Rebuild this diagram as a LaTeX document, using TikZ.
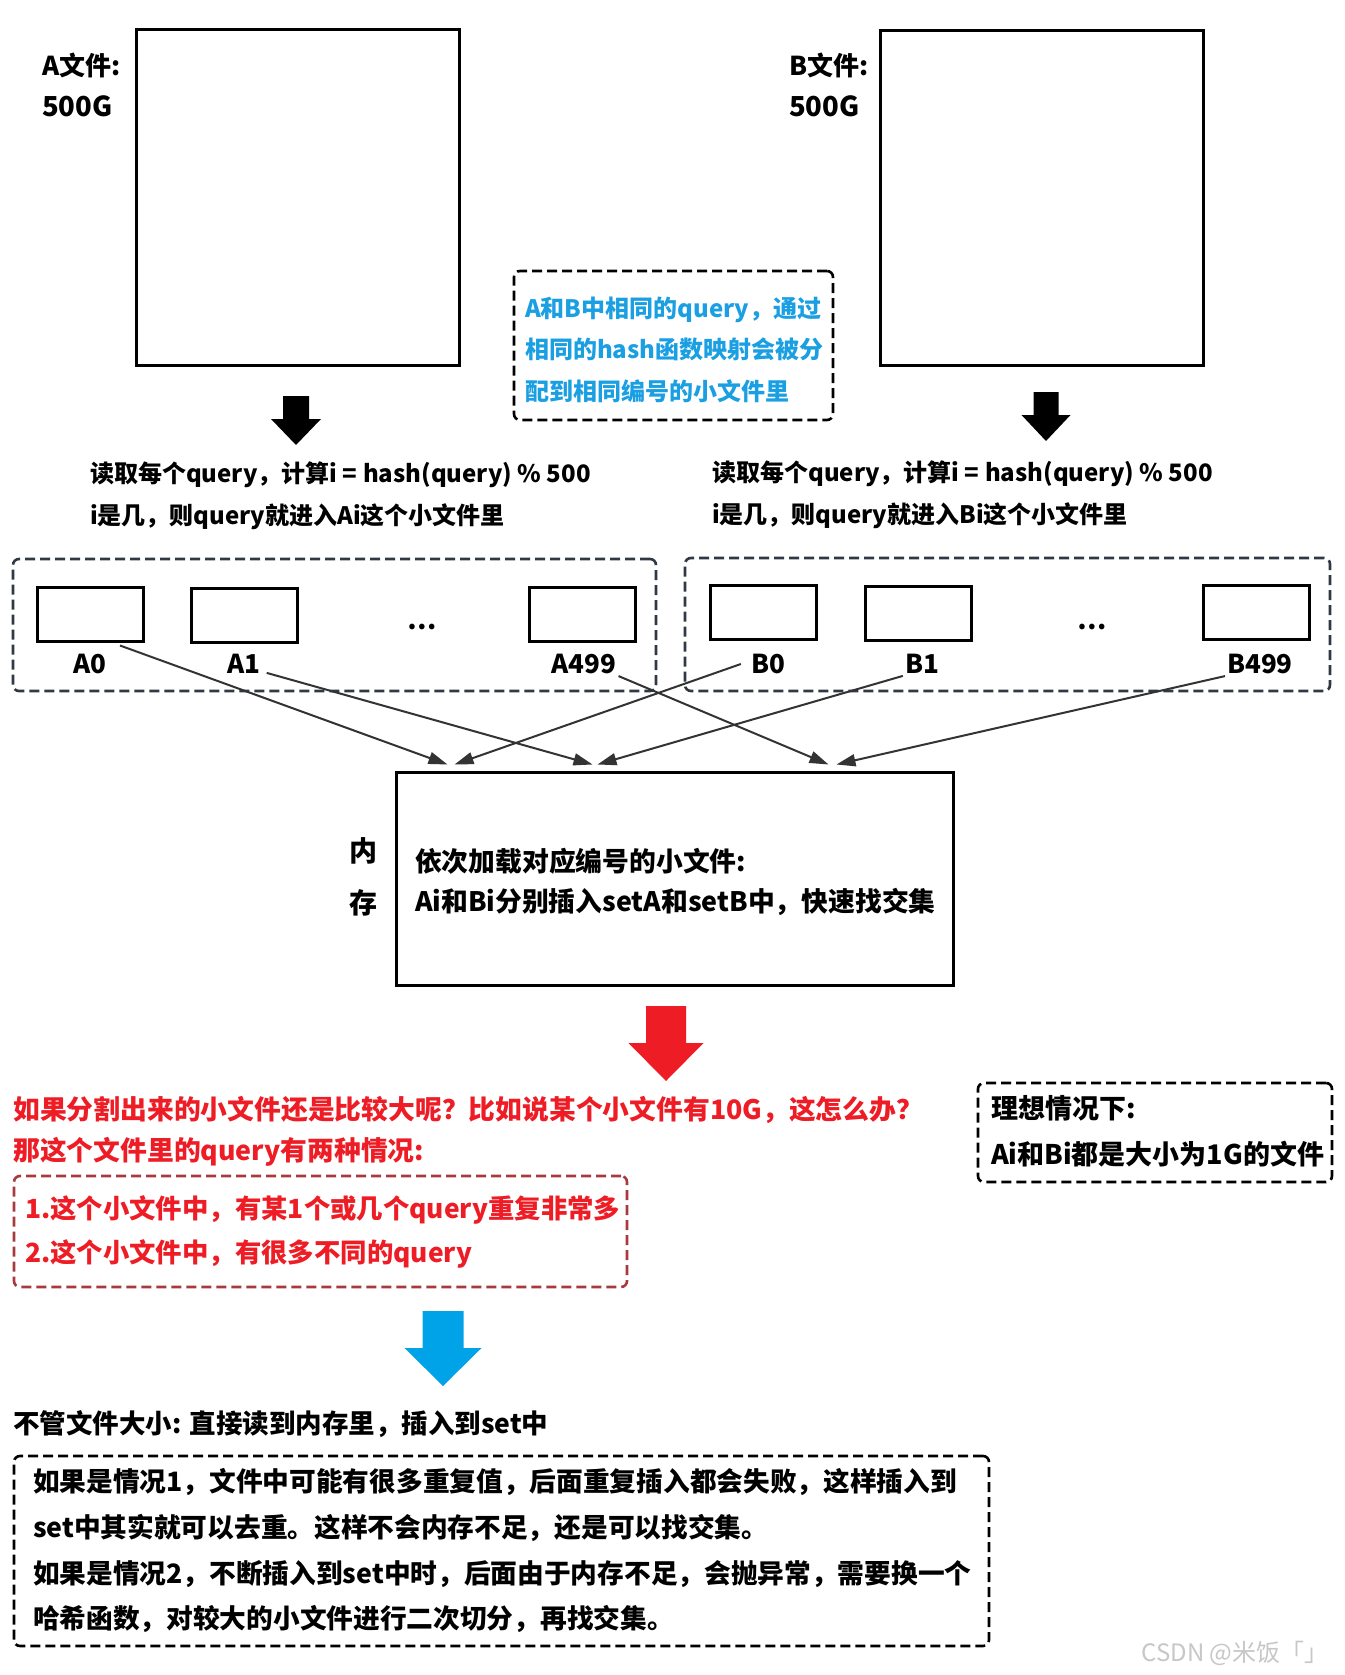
\documentclass[tikz,border=0pt]{standalone}
\usepackage{fontspec}
\setmainfont{Noto Sans CJK SC}
\usepackage{tikz}
\usetikzlibrary{arrows.meta}
\definecolor{qblue}{HTML}{1A9FE3}
\definecolor{qred}{HTML}{EE1C25}
\definecolor{qrust}{HTML}{A83A3F}
\definecolor{qslate}{HTML}{2F3944}
\definecolor{qink}{HTML}{333333}
\definecolor{qsky}{HTML}{00A2E8}
\hyphenpenalty=10000
\newcommand{\fs}[2]{\fontsize{#1}{#2}\selectfont\bfseries}
\newcommand{\tstrut}{\rule{0pt}{\dimexpr0.7\baselineskip+10pt\relax}}
\newcommand{\blkdown}[7]{\fill[#1] (#2-#6,#3) -- (#2+#6,#3) -- (#2+#6,#4) -- (#2+#7,#4) -- (#2,#5) -- (#2-#7,#4) -- (#2-#6,#4) -- cycle;}
\tikzset{
  filebox/.style={draw, line width=3pt, minimum width=323pt, minimum height=335pt, inner sep=0},
  part/.style={draw, line width=3pt, minimum width=106pt, minimum height=54pt, inner sep=0},
  grp/.style={draw=qslate, line width=2.6pt, dash pattern=on 10pt off 5pt, rounded corners=6pt, inner sep=0},
  txt/.style={inner sep=0, align=left, anchor=west, execute at begin node=\strut, execute at end node=\strut},
  note/.style={draw, line width=2.6pt, dash pattern=on 10pt off 5pt, rounded corners=6pt, align=left, inner ysep=0, execute at begin node=\strut, execute at end node=\strut},
  lbl/.style={inner sep=2pt, font=\fs{26}{32}},
  flow/.style={-{Triangle[length=19pt,width=12pt]}, line width=2pt, color=qink},
}
\begin{document}
\begin{tikzpicture}[x=1pt, y=-1pt]
  \path[use as bounding box, fill=white] (0,0) rectangle (1344,1675);
  \node[txt, font=\fs{26}{41}] (lblA) at (42,90.5) {A文件:\\{\fontsize{27.5}{41}\selectfont 500G}};
  \node[txt, font=\fs{26}{41}] (lblB) at (789,90.5) {B文件:\\{\fontsize{27.5}{41}\selectfont 500G}};
  \node[filebox] (fileA) at (297.5,197.5) {};
  \node[filebox] (fileB) at (1041.5,198) {};
  \node[note, text=qblue, font=\fs{24}{41.5}, minimum width=319pt, minimum height=149pt, text width=297pt, inner xsep=11pt] (same) at (673.5,345.5) {\tstrut A和B中相同的query，通过\\相同的hash函数映射会被分\\配到相同编号的小文件里};
  \blkdown{black}{296}{396}{419}{445}{13}{25}
  \blkdown{black}{1046}{392}{415}{441}{12.5}{24.5}
  \node[txt, font=\fs{24}{42}] (hashA) at (90,499) {读取每个query，计算i = hash(query) \% 500\\i是几，则query就进入Ai这个小文件里};
  \node[txt, font=\fs{24}{42}] (hashB) at (712,498) {读取每个query，计算i = hash(query) \% 500\\i是几，则query就进入Bi这个小文件里};
  \node[grp, minimum width=643pt, minimum height=132pt] (grpA) at (334.5,625) {};
  \node[grp, minimum width=645pt, minimum height=133pt] (grpB) at (1007.5,624.5) {};
  \foreach \nm/\x/\y/\lx/\lab in {a0/90/614/90/A0, a1/244/615/244/A1, a499/582/614/584/A499, b0/763.5/612.5/768/B0, b1/918/613.5/922/B1, b499/1256/612.5/1260/B499} {
    \node[part] (\nm) at (\x,\y) {};
    \node[lbl] (l\nm) at (\lx,664) {\lab};
  }
  \node[font=\fs{26}{26}] (dotsA) at (422,627) {…};
  \node[font=\fs{26}{26}] (dotsB) at (1092,627) {…};
  \node[draw, line width=3pt, minimum width=557pt, minimum height=213pt, text width=519pt, inner xsep=19pt, align=left, font=\fs{26.8}{40}, execute at begin node=\tstrut, execute at end node=\strut] (mem) at (674.5,878.5) {依次加载对应编号的小文件:\\Ai和Bi分别插入setA和setB中，快速找交集};
  \node[txt, anchor=center, font=\fs{28}{52}] (memlbl) at (363,883) {内\\存};
  \draw[flow] ([shift={(30,3)}]a0.south) -- ([shift={(53,-6)}]mem.north west);
  \draw[flow] ([shift={(4,-3)}]la1.south east) -- ([shift={(198,-6)}]mem.north west);
  \draw[flow] (la499.south east) -- ([shift={(434,-6)}]mem.north west);
  \draw[flow] ([xshift=-8pt]lb0.west) -- ([shift={(60,-6)}]mem.north west);
  \draw[flow] (lb1.south west) -- ([shift={(203,-6)}]mem.north west);
  \draw[flow] (lb499.south west) -- ([shift={(442,-6)}]mem.north west);
  \blkdown{qred}{666}{1006}{1043}{1081}{20}{37.5}
  \node[txt, text=qred, font=\fs{26.8}{41}] (bigq) at (13,1134.5) {如果分割出来的小文件还是比较大呢？比如说某个小文件有10G，这怎么办？\\那这个文件里的query有两种情况:};
  \node[note, draw=qrust, text=qred, font=\fs{26.4}{44}, minimum width=613pt, minimum height=111pt, text width=591pt, inner xsep=11pt] (cases) at (320.5,1231.5) {1.这个小文件中，有某1个或几个query重复非常多\\2.这个小文件中，有很多不同的query};
  \node[note, font=\fs{27}{46}, minimum width=354pt, minimum height=99pt, text width=328pt, inner xsep=13pt] (ideal) at (1155,1132.5) {理想情况下:\\Ai和Bi都是大小为1G的文件};
  \blkdown{qsky}{443}{1311}{1348}{1386}{20.5}{38.5}
  \node[txt, font=\fs{26.5}{27}] (anysize) at (13,1426) {不管文件大小: 直接读到内存里，插入到set中};
  \node[note, font=\fs{26.7}{45.7}, minimum width=975pt, minimum height=190pt, text width=937pt, inner xsep=19pt] (plan) at (501.5,1551) {如果是情况1，文件中可能有很多重复值，后面重复插入都会失败，这样插入到\\set中其实就可以去重。这样不会内存不足，还是可以找交集。\\如果是情况2，不断插入到set中时，后面由于内存不足，会抛异常，需要换一个\\哈希函数，对较大的小文件进行二次切分，再找交集。};
  \node[font=\fontsize{24}{24}\selectfont, text=black!22] (mark) at (1235,1653) {CSDN @米饭「」};
\end{tikzpicture}
\end{document}
